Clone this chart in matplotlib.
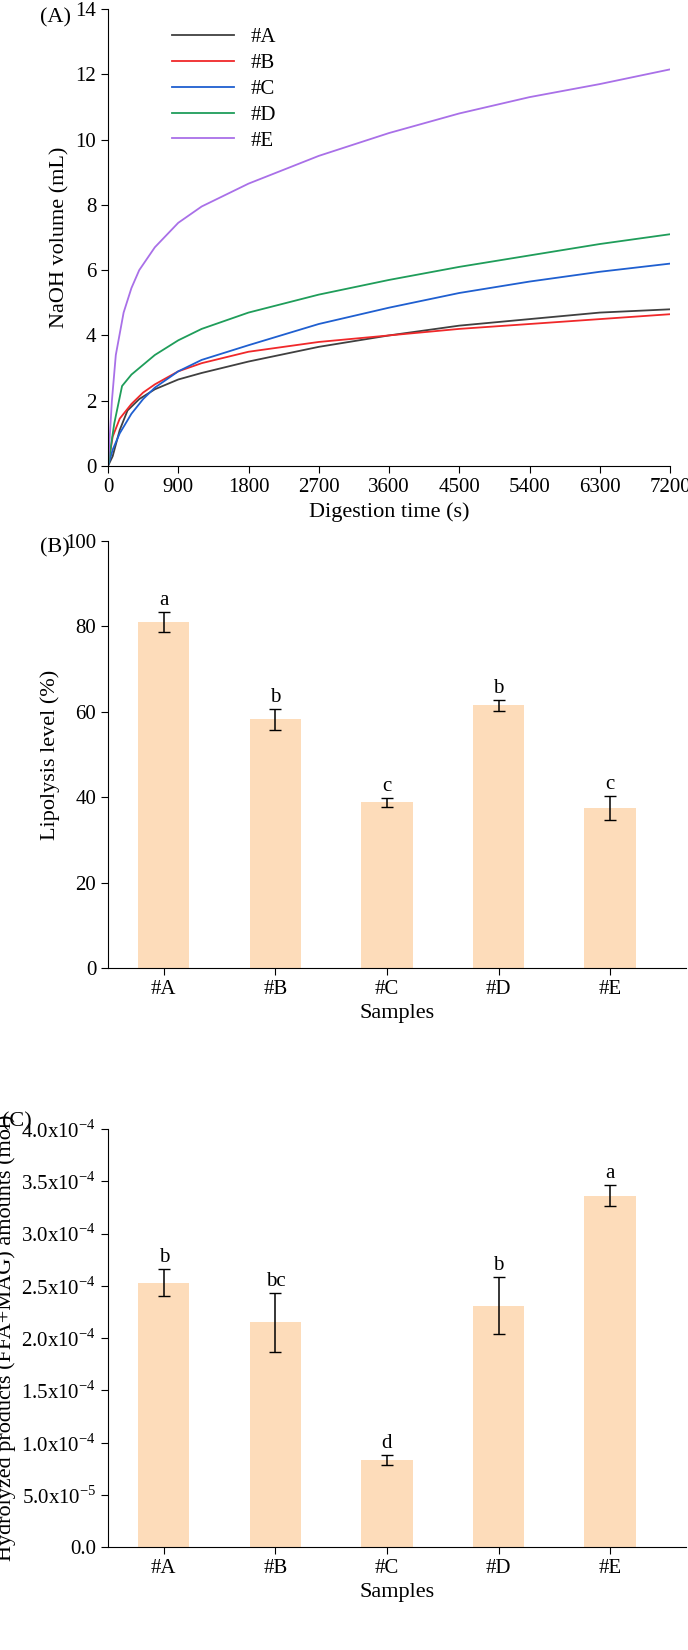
import matplotlib
matplotlib.use('Agg')
import matplotlib.pyplot as plt

plt.rcParams['font.family'] = 'Liberation Serif'
plt.rcParams['mathtext.fontset'] = 'custom'
plt.rcParams['mathtext.rm'] = 'Liberation Serif'
plt.rcParams['font.size'] = 15
plt.rcParams['axes.labelsize'] = 16

samples = ['#A', '#B', '#C', '#D', '#E']
colors = ['#404040', '#f0282a', '#1f5fd0', '#1f9d5a', '#a970e8']

# curve points (time s, NaOH mL)
time_a = [0, 60, 150, 250, 400, 600, 900, 1200, 1800, 2700, 3600, 4500, 5400, 6300, 7200]
vol_a = [0, 0.3, 1.1, 1.7, 2.05, 2.35, 2.65, 2.85, 3.2, 3.65, 4.0, 4.3, 4.5, 4.7, 4.8]
time_b = [0, 60, 150, 300, 450, 600, 900, 1200, 1800, 2700, 3600, 4500, 5400, 6300, 7200]
vol_b = [0, 0.9, 1.45, 1.9, 2.25, 2.5, 2.9, 3.15, 3.5, 3.8, 4.0, 4.2, 4.35, 4.5, 4.65]
time_c = [0, 60, 150, 300, 450, 600, 900, 1200, 1800, 2700, 3600, 4500, 5400, 6300, 7200]
vol_c = [0, 0.5, 1.0, 1.6, 2.05, 2.4, 2.9, 3.25, 3.7, 4.35, 4.85, 5.3, 5.65, 5.95, 6.2]
time_d = [0, 80, 180, 300, 450, 600, 900, 1200, 1800, 2700, 3600, 4500, 5400, 6300, 7200]
vol_d = [0, 1.3, 2.45, 2.8, 3.1, 3.4, 3.85, 4.2, 4.7, 5.25, 5.7, 6.1, 6.45, 6.8, 7.1]
time_e = [0, 50, 100, 200, 300, 400, 600, 900, 1200, 1800, 2700, 3600, 4500, 5400, 6300, 7200]
vol_e = [0, 2.0, 3.4, 4.7, 5.45, 6.0, 6.7, 7.45, 7.95, 8.65, 9.5, 10.2, 10.8, 11.3, 11.7, 12.15]

lipolysis = [81.0, 58.2, 38.8, 61.5, 37.5]
lipolysis_err = [2.3, 2.5, 1.0, 1.2, 2.8]
lipolysis_letters = ['a', 'b', 'c', 'b', 'c']

products = [2.53e-4, 2.15e-4, 0.83e-4, 2.31e-4, 3.36e-4]
products_err = [0.13e-4, 0.28e-4, 0.05e-4, 0.27e-4, 0.10e-4]
products_letters = ['b', 'bc', 'd', 'b', 'a']

bar_color = '#fddcba'


def style(ax):
    ax.spines['top'].set_visible(False)
    ax.spines['right'].set_visible(False)
    ax.tick_params(direction='out', length=5)


fig = plt.figure(figsize=(6.88, 16.5), dpi=100)
W, H = 688, 1650

def add_axes(left, top, right, bottom):
    return fig.add_axes([left / W, 1 - bottom / H, (right - left) / W, (bottom - top) / H])

# (A)
ax = add_axes(108, 9, 670, 466)
for t, v, c, s in zip([time_a, time_b, time_c, time_d, time_e],
                      [vol_a, vol_b, vol_c, vol_d, vol_e], colors, samples):
    ax.plot(t, v, color=c, lw=1.3, label=s)
ax.set_xlim(0, 7200)
ax.set_ylim(0, 14)
ax.set_xticks(range(0, 7201, 900))
ax.set_yticks(range(0, 15, 2))
ax.set_xlabel('Digestion time (s)')
ax.set_ylabel('NaOH volume (mL)')
ax.legend(loc='upper left', frameon=False, bbox_to_anchor=(0.08, 1.0),
          handlelength=3.0, labelspacing=0.3)
style(ax)
fig.text(40 / W, 1 - 18 / H, '(A)', fontsize=16, va='center')

# (B)
ax = add_axes(108, 541, 686, 968)
x = range(len(samples))
ax.bar(x, lipolysis, width=0.46, color=bar_color)
ax.errorbar(x, lipolysis, yerr=lipolysis_err, fmt='none', ecolor='black',
            capsize=4, lw=1.1)
for i, (v, e, l) in enumerate(zip(lipolysis, lipolysis_err, lipolysis_letters)):
    ax.text(i, v + e + 0.5, l, ha='center', va='bottom')
ax.set_xlim(-0.5, 4.68)
ax.set_ylim(0, 100)
ax.set_xticks(list(x))
ax.set_xticklabels(samples)
ax.set_xlabel('Samples')
ax.set_ylabel('Lipolysis level (%)')
style(ax)
fig.text(40 / W, 1 - 548 / H, '(B)', fontsize=16, va='center')

# (C)
ax = add_axes(108, 1129, 686, 1547)
ax.bar(x, products, width=0.46, color=bar_color)
ax.errorbar(x, products, yerr=products_err, fmt='none', ecolor='black',
            capsize=4, lw=1.1)
for i, (v, e, l) in enumerate(zip(products, products_err, products_letters)):
    ax.text(i, v + e + 0.02e-4, l, ha='center', va='bottom')
ax.set_xlim(-0.5, 4.68)
ax.set_ylim(0, 4.0e-4)
yt = [i * 0.5e-4 for i in range(9)]
ylabels = ['0.0', '5.0x10$^{-5}$'] + ['%.1fx10$^{-4}$' % (v * 1e4) for v in yt[2:]]
ax.set_yticks(yt)
ax.set_yticklabels(ylabels)
ax.set_xticks(list(x))
ax.set_xticklabels(samples)
ax.set_xlabel('Samples')
ax.set_ylabel('Hydrolyzed products (FFA+MAG) amounts (mol)')
style(ax)
fig.text(2 / W, 1 - 1122 / H, '(C)', fontsize=16, va='center')

fig.savefig('out.png', dpi=100)
